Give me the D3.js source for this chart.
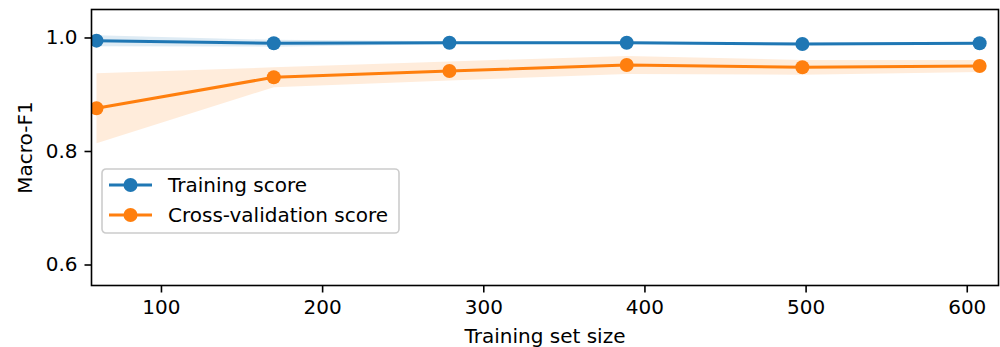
<!DOCTYPE html>
<html>
<head>
<meta charset="utf-8">
<script src="https://cdn.jsdelivr.net/npm/d3@7"></script>
<style>
  html, body { margin: 0; padding: 0; background: #fff; }
  svg { display: block; font-family: "DejaVu Sans", sans-serif; }
</style>
</head>
<body>
<svg id="chart" width="1000" height="347"></svg>
<script>
// Learning-curve data: training set sizes, mean scores and spread (std)
const trainSizes = [60, 170, 279, 389, 498, 608];
const trainMean  = [0.9944, 0.9898, 0.9908, 0.9908, 0.9885, 0.9898];
const trainStd   = [0.0097, 0.0060, 0.0025, 0.0020, 0.0020, 0.0020];
const cvMean     = [0.8752, 0.9299, 0.9410, 0.9515, 0.9475, 0.9498];
const cvStd      = [0.0617, 0.0176, 0.0167, 0.0160, 0.0130, 0.0105];
const xTicks = [100, 200, 300, 400, 500, 600];
const yTicks = [0.6, 0.8, 1.0];
const seriesNames = ["Training score", "Cross-validation score"];
const seriesColors = ["#1f77b4", "#ff7f0e"];

const FONT = "20px";
const MARKER_R = 7;

const svg = d3.select("#chart");
const m = { left: 91.5, top: 9.5, right: 1.5, bottom: 61.5 };
const W = 1000 - m.left - m.right;
const H = 347 - m.top - m.bottom;

const x = d3.scaleLinear().domain([56.9, 619.7]).range([0, W]);
const y = d3.scaleLinear().domain([0.563, 1.0493]).range([H, 0]);

const g = svg.append("g").attr("transform", `translate(${m.left},${m.top})`);

svg.append("defs").append("clipPath").attr("id", "plotclip")
  .append("rect").attr("x", 0).attr("y", 0).attr("width", W).attr("height", H);

const plot = g.append("g").attr("clip-path", "url(#plotclip)");

const series = [
  { name: seriesNames[0], color: seriesColors[0], mean: trainMean, std: trainStd },
  { name: seriesNames[1], color: seriesColors[1], mean: cvMean, std: cvStd }
];

// Shaded +/- one std bands
series.forEach(s => {
  const pts = trainSizes.map((t, i) => ({ t, m: s.mean[i], sd: s.std[i] }));
  plot.append("path")
    .datum(pts)
    .attr("fill", s.color)
    .attr("fill-opacity", 0.15)
    .attr("d", d3.area()
      .x(d => x(d.t))
      .y0(d => y(d.m - d.sd))
      .y1(d => y(d.m + d.sd)));
});

// Mean lines with markers
series.forEach(s => {
  const pts = trainSizes.map((t, i) => ({ t, m: s.mean[i] }));
  plot.append("path")
    .datum(pts)
    .attr("fill", "none")
    .attr("stroke", s.color)
    .attr("stroke-width", 3)
    .attr("d", d3.line().x(d => x(d.t)).y(d => y(d.m)));
  plot.selectAll(null).data(pts).enter().append("circle")
    .attr("cx", d => x(d.t)).attr("cy", d => y(d.m))
    .attr("r", MARKER_R).attr("fill", s.color);
});

// Axes
const xAxis = g.append("g").attr("transform", `translate(0,${H})`)
  .call(d3.axisBottom(x).tickValues(xTicks).tickFormat(d3.format("d"))
    .tickSizeOuter(0).tickSizeInner(7).tickPadding(7));
const yAxis = g.append("g")
  .call(d3.axisLeft(y).tickValues(yTicks).tickFormat(d3.format(".1f"))
    .tickSizeOuter(0).tickSizeInner(7).tickPadding(7));
[xAxis, yAxis].forEach(a => {
  a.select(".domain").remove();
  a.selectAll(".tick line").attr("stroke", "#000").attr("stroke-width", 1.6);
  a.selectAll(".tick text").attr("fill", "#000")
    .style("font-size", FONT).style("font-family", "DejaVu Sans, sans-serif");
});

// Frame
g.append("rect").attr("x", 0).attr("y", 0).attr("width", W).attr("height", H)
  .attr("fill", "none").attr("stroke", "#000").attr("stroke-width", 1.6);

// Axis titles
svg.append("text")
  .attr("x", m.left + W / 2).attr("y", 343)
  .attr("text-anchor", "middle")
  .style("font-size", FONT)
  .text("Training set size");
svg.append("text")
  .attr("transform", `translate(32,${m.top + H / 2}) rotate(-90)`)
  .attr("text-anchor", "middle")
  .style("font-size", FONT)
  .text("Macro-F1");

// Legend
const lg = svg.append("g").attr("transform", "translate(102,169)");
lg.append("rect").attr("width", 297).attr("height", 64)
  .attr("rx", 4).attr("ry", 4)
  .attr("fill", "#fff").attr("fill-opacity", 0.8)
  .attr("stroke", "#cccccc").attr("stroke-width", 1.6);
series.forEach((s, i) => {
  const row = lg.append("g").attr("transform", `translate(0,${16 + i * 30})`);
  row.append("line").attr("x1", 7).attr("x2", 50).attr("y1", 0).attr("y2", 0)
    .attr("stroke", s.color).attr("stroke-width", 3);
  row.append("circle").attr("cx", 28.5).attr("cy", 0).attr("r", MARKER_R).attr("fill", s.color);
  row.append("text").attr("x", 66).attr("y", 0).attr("dy", "0.35em")
    .style("font-size", FONT).text(s.name);
});
</script>
</body>
</html>
